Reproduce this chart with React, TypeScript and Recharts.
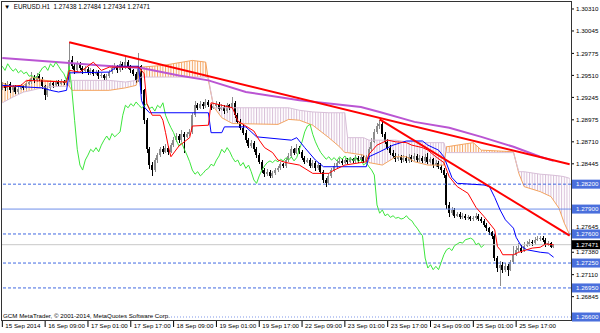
import React from 'react';
import { ComposedChart, Bar, Line, Area, XAxis, YAxis, ReferenceLine } from 'recharts';

// EURUSD H1, 15 Sep 17:00 .. 26 Sep 02:00 (2014)
const firstOpen = 1.2936;
const closes = [
  1.2939, 1.2936, 1.2941, 1.2933, 1.2937, 1.2931, 1.2935, 1.2938, 1.2936, 1.2941,
  1.2943, 1.2948, 1.2945, 1.2950, 1.2947, 1.2938, 1.2927, 1.2936, 1.2942, 1.2939,
  1.2943, 1.2941, 1.2944, 1.2942, 1.2945, 1.2969, 1.2962, 1.2957, 1.2965, 1.2960,
  1.2956, 1.2959, 1.2954, 1.2957, 1.2953, 1.2955, 1.2950, 1.2951, 1.2948, 1.2950,
  1.2955, 1.2960, 1.2962, 1.2957, 1.2965, 1.2961, 1.2967, 1.2962, 1.2957, 1.2953,
  1.2945, 1.2962, 1.2933, 1.2897, 1.2862, 1.2843, 1.2837, 1.2849, 1.2855, 1.2862,
  1.2859, 1.2864, 1.2859, 1.2867, 1.2873, 1.2878, 1.2873, 1.2881, 1.2877, 1.2880,
  1.2883, 1.2903, 1.2915, 1.2912, 1.2917, 1.2914, 1.2919, 1.2915, 1.2912, 1.2914,
  1.2917, 1.2911, 1.2913, 1.2908, 1.2915, 1.2912, 1.2918, 1.2903, 1.2895, 1.2888,
  1.2882, 1.2873, 1.2866, 1.2870, 1.2862, 1.2855, 1.2847, 1.2837, 1.2832, 1.2835,
  1.2830, 1.2833, 1.2837, 1.2839, 1.2844, 1.2842, 1.2849, 1.2854, 1.2862, 1.2858,
  1.2864, 1.2859, 1.2852, 1.2847, 1.2849, 1.2842, 1.2846, 1.2839, 1.2843, 1.2835,
  1.2825, 1.2821, 1.2830, 1.2837, 1.2842, 1.2846, 1.2848, 1.2846, 1.2849, 1.2847,
  1.2850, 1.2848, 1.2852, 1.2849, 1.2853, 1.2848, 1.2852, 1.2862, 1.2871, 1.2883,
  1.2890, 1.2892, 1.2880, 1.2871, 1.2864, 1.2858, 1.2854, 1.2850, 1.2853, 1.2849,
  1.2852, 1.2848, 1.2853, 1.2850, 1.2854, 1.2849, 1.2852, 1.2848, 1.2853, 1.2847,
  1.2850, 1.2843, 1.2846, 1.2841, 1.2837, 1.2831, 1.2795, 1.2785, 1.2789, 1.2782,
  1.2784, 1.2780, 1.2782, 1.2779, 1.2780, 1.2778, 1.2779, 1.2782, 1.2778, 1.2776,
  1.2771, 1.2767, 1.2762, 1.2758, 1.2731, 1.2719, 1.2723, 1.2717, 1.2721, 1.2717,
  1.2726, 1.2735, 1.2741, 1.2743, 1.2740, 1.2746, 1.2748, 1.2750, 1.2749, 1.2753,
  1.2754, 1.2755, 1.2753, 1.2747, 1.2749, 1.27438, 1.27471,
];
const highs = [
  1.2943, 1.2942, 1.2944, 1.2943, 1.2940, 1.2939, 1.2938, 1.2941, 1.2940, 1.2944,
  1.2947, 1.2955, 1.2951, 1.2954, 1.2953, 1.2949, 1.2940, 1.2938, 1.2945, 1.2944,
  1.2946, 1.2945, 1.2947, 1.2946, 1.2948, 1.2991, 1.2974, 1.2966, 1.2968, 1.2967,
  1.2962, 1.2962, 1.2961, 1.2960, 1.2959, 1.2958, 1.2957, 1.2954, 1.2953, 1.2953,
  1.2958, 1.2963, 1.2966, 1.2964, 1.2968, 1.2967, 1.2975, 1.2969, 1.2964, 1.2959,
  1.2955, 1.2978, 1.2964, 1.2935, 1.2900, 1.2865, 1.2847, 1.2852, 1.2858, 1.2865,
  1.2866, 1.2868, 1.2866, 1.2870, 1.2877, 1.2882, 1.2880, 1.2885, 1.2883, 1.2883,
  1.2887, 1.2906, 1.2920, 1.2918, 1.2920, 1.2919, 1.2922, 1.2921, 1.2917, 1.2917,
  1.2920, 1.2919, 1.2916, 1.2915, 1.2918, 1.2917, 1.2925, 1.2920, 1.2906, 1.2898,
  1.2891, 1.2885, 1.2876, 1.2873, 1.2872, 1.2865, 1.2857, 1.2849, 1.2840, 1.2838,
  1.2837, 1.2836, 1.2840, 1.2842, 1.2847, 1.2846, 1.2852, 1.2857, 1.2866, 1.2864,
  1.2868, 1.2866, 1.2861, 1.2854, 1.2852, 1.2851, 1.2849, 1.2848, 1.2846, 1.2845,
  1.2837, 1.2828, 1.2833, 1.2840, 1.2845, 1.2849, 1.2851, 1.2850, 1.2852, 1.2851,
  1.2853, 1.2852, 1.2855, 1.2854, 1.2856, 1.2855, 1.2855, 1.2865, 1.2875, 1.2887,
  1.2894, 1.2897, 1.2895, 1.2883, 1.2874, 1.2867, 1.2861, 1.2857, 1.2856, 1.2855,
  1.2855, 1.2854, 1.2856, 1.2855, 1.2857, 1.2856, 1.2855, 1.2854, 1.2856, 1.2858,
  1.2853, 1.2852, 1.2849, 1.2848, 1.2843, 1.2839, 1.2833, 1.2798, 1.2793, 1.2791,
  1.2787, 1.2786, 1.2785, 1.2784, 1.2783, 1.2782, 1.2782, 1.2785, 1.2784, 1.2780,
  1.2778, 1.2773, 1.2769, 1.2764, 1.2760, 1.2734, 1.2727, 1.2726, 1.2725, 1.2724,
  1.2729, 1.2745, 1.2745, 1.2749, 1.2747, 1.2750, 1.2752, 1.2754, 1.2753, 1.2756,
  1.2758, 1.2758, 1.2757, 1.2755, 1.2751, 1.2750, 1.27484,
];
const lows = [
  1.2933, 1.2932, 1.2934, 1.2930, 1.2931, 1.2928, 1.2929, 1.2933, 1.2933, 1.2935,
  1.2939, 1.2941, 1.2942, 1.2943, 1.2944, 1.2935, 1.2921, 1.2925, 1.2934, 1.2936,
  1.2937, 1.2938, 1.2939, 1.2939, 1.2940, 1.2943, 1.2959, 1.2953, 1.2955, 1.2957,
  1.2953, 1.2954, 1.2951, 1.2952, 1.2950, 1.2951, 1.2947, 1.2948, 1.2945, 1.2946,
  1.2948, 1.2953, 1.2958, 1.2954, 1.2955, 1.2958, 1.2959, 1.2959, 1.2954, 1.2950,
  1.2942, 1.2943, 1.2929, 1.2893, 1.2857, 1.2838, 1.2830, 1.2835, 1.2846, 1.2853,
  1.2856, 1.2857, 1.2855, 1.2857, 1.2865, 1.2871, 1.2869, 1.2871, 1.2858, 1.2875,
  1.2878, 1.2881, 1.2901, 1.2909, 1.2910, 1.2911, 1.2912, 1.2913, 1.2909, 1.2910,
  1.2912, 1.2908, 1.2909, 1.2905, 1.2906, 1.2909, 1.2910, 1.2900, 1.2892, 1.2885,
  1.2879, 1.2870, 1.2863, 1.2864, 1.2859, 1.2852, 1.2844, 1.2834, 1.2829, 1.2830,
  1.2828, 1.2828, 1.2831, 1.2835, 1.2837, 1.2839, 1.2840, 1.2847, 1.2852, 1.2855,
  1.2856, 1.2856, 1.2849, 1.2844, 1.2845, 1.2839, 1.2840, 1.2836, 1.2837, 1.2832,
  1.2822, 1.2816, 1.2819, 1.2828, 1.2835, 1.2840, 1.2844, 1.2843, 1.2844, 1.2844,
  1.2845, 1.2845, 1.2846, 1.2846, 1.2847, 1.2845, 1.2846, 1.2850, 1.2860, 1.2869,
  1.2880, 1.2886, 1.2877, 1.2868, 1.2861, 1.2855, 1.2851, 1.2847, 1.2848, 1.2846,
  1.2847, 1.2845, 1.2846, 1.2847, 1.2848, 1.2846, 1.2847, 1.2845, 1.2846, 1.2844,
  1.2845, 1.2840, 1.2841, 1.2838, 1.2834, 1.2828, 1.2790, 1.2781, 1.2783, 1.2779,
  1.2780, 1.2778, 1.2778, 1.2777, 1.2777, 1.2776, 1.2776, 1.2777, 1.2776, 1.2773,
  1.2768, 1.2764, 1.2759, 1.2754, 1.2727, 1.2714, 1.2697, 1.2713, 1.2714, 1.2709,
  1.2715, 1.2724, 1.2733, 1.2738, 1.2737, 1.2738, 1.2744, 1.2746, 1.2746, 1.2747,
  1.2751, 1.2752, 1.2750, 1.2744, 1.2745, 1.27430, 1.27434,
];

// Ichimoku lines, [bar, price] at the turning points
const tenkanPts: [number, number][] = [
  [0, 1.2937], [7, 1.2939], [9, 1.2945], [24, 1.2943], [25, 1.2957], [29, 1.2955], [34, 1.2967],
  [37, 1.2957], [40, 1.2961], [51, 1.2961], [53, 1.2953], [54, 1.2917], [56, 1.2903], [59, 1.2903],
  [60, 1.2897], [61, 1.2882], [62, 1.2866], [63, 1.2853], [66, 1.2866], [70, 1.2876], [71, 1.2890],
  [77, 1.2891], [78, 1.2918], [86, 1.2912], [88, 1.2896], [91, 1.2890], [94, 1.2884], [96, 1.2873],
  [98, 1.2864], [101, 1.2858], [103, 1.2849], [106, 1.2846], [111, 1.2843], [116, 1.2833], [122, 1.2833],
  [124, 1.2837], [128, 1.2843], [136, 1.2847], [137, 1.2856], [140, 1.2867], [142, 1.2870], [144, 1.2873],
  [147, 1.2871], [151, 1.2870], [153, 1.2867], [157, 1.2864], [159, 1.2861], [162, 1.2853], [165, 1.2846],
  [167, 1.2829], [170, 1.2817], [172, 1.2813], [174, 1.2809], [177, 1.2792], [180, 1.2781], [182, 1.2773],
  [184, 1.2765], [185, 1.2745], [186, 1.2741], [187, 1.2735], [191, 1.2735], [193, 1.2738], [196, 1.2741],
  [198, 1.2743], [201, 1.2744], [203, 1.2748], [206, 1.2747],
];
const kijunPts: [number, number][] = [
  [0, 1.2939], [9, 1.2937], [15, 1.2936], [18, 1.2933], [21, 1.2931], [24, 1.2933], [25, 1.2954],
  [40, 1.2955], [43, 1.2962], [51, 1.2962], [52, 1.2921], [53, 1.2913], [55, 1.2906], [77, 1.2906],
  [78, 1.2882], [82, 1.2882], [83, 1.2889], [91, 1.2889], [95, 1.2877], [108, 1.2873], [110, 1.2876],
  [113, 1.2864], [117, 1.2849], [120, 1.2841], [136, 1.2841], [137, 1.2853], [141, 1.2859], [146, 1.2867],
  [151, 1.2872], [157, 1.2872], [159, 1.2867], [163, 1.2861], [165, 1.2853], [168, 1.2828], [170, 1.2821],
  [180, 1.2819], [182, 1.2817], [184, 1.2804], [186, 1.2789], [188, 1.2777], [191, 1.2767], [192, 1.2756],
  [194, 1.2745], [196, 1.2741], [201, 1.2738], [204, 1.2737], [206, 1.2732],
];

// Senkou span A / B (already shifted 26 bars forward)
const cloudBars = [
  0, 4, 8, 11, 16, 24, 26, 40, 46, 50, 52, 60, 71, 76, 77, 79, 82, 86, 103, 107, 111, 116, 122,
  126, 128, 129, 135, 137, 142, 144, 147, 151, 154, 159, 165, 166, 176, 179, 191, 193, 195, 201,
  205, 208, 210, 212,
];
const spanA = [
  1.2942, 1.2937, 1.2939, 1.2949, 1.2945, 1.2943, 1.2933, 1.2933, 1.2936, 1.2939, 1.2961, 1.2963,
  1.2969, 1.2967, 1.2945, 1.2913, 1.2900, 1.2893, 1.2892, 1.2898, 1.2897, 1.2891, 1.2876, 1.2865,
  1.2858, 1.2858, 1.2855, 1.2846, 1.2843, 1.2847, 1.2853, 1.2853, 1.2847, 1.2843, 1.2843, 1.2865,
  1.2870, 1.2861, 1.2859, 1.2833, 1.2817, 1.2811, 1.2805, 1.2791, 1.2773, 1.2759,
];
const spanB = [
  1.2918, 1.2925, 1.2931, 1.2933, 1.2937, 1.2938, 1.2945, 1.2945, 1.2943, 1.2945, 1.2949, 1.2949,
  1.2949, 1.2949, 1.2948, 1.2912, 1.2912, 1.2912, 1.2912, 1.2912, 1.2909, 1.2907, 1.2906, 1.2906,
  1.2906, 1.2876, 1.2876, 1.2873, 1.2873, 1.2873, 1.2873, 1.2871, 1.2871, 1.2870, 1.2870, 1.2858,
  1.2858, 1.2858, 1.2858, 1.2835, 1.2835, 1.2832, 1.2831, 1.2830, 1.2829, 1.2827,
];

// slow moving average (violet)
const maPts: [number, number][] = [
  [0, 1.2972], [25, 1.2966], [37, 1.2963], [52, 1.2960], [66, 1.2951], [77, 1.2945], [91, 1.2931],
  [111, 1.2921], [134, 1.2913], [141, 1.2907], [154, 1.2895], [167, 1.2888], [179, 1.2877],
  [191, 1.2865], [201, 1.2853], [206, 1.2848],
];

// hand drawn trend lines
const trend1: [number, number][] = [[25, 1.2991], [212, 1.2844]];
const trend2: [number, number][] = [[141, 1.2898], [212, 1.2758]];

// horizontal levels
const dashedLevels = [1.282, 1.276, 1.2725, 1.2695];
const solidLevel = 1.279;
const dottedLevel = 1.266;
const currentPrice = 1.27471;

const gridTicks = [1.3031, 1.30045, 1.29775, 1.2951, 1.29245, 1.28975, 1.2871, 1.28445, 1.27645, 1.2738, 1.2711, 1.26845];
const levelTicks = [1.282, 1.279, 1.276, 1.2725, 1.2695, 1.266];

const timeTickBars = [0, 16, 32, 48, 64, 80, 96, 112, 128, 144, 160, 176, 192];
const timeTickText = [
  '15 Sep 2014', '16 Sep 09:00', '17 Sep 01:00', '17 Sep 17:00', '18 Sep 09:00', '19 Sep 01:00',
  '19 Sep 17:00', '22 Sep 09:00', '23 Sep 01:00', '23 Sep 17:00', '24 Sep 09:00', '25 Sep 01:00',
  '25 Sep 17:00',
];

const SLOTS = 213; // bars + chart shift on the right
const Y_MIN = 1.26564;
const Y_MAX = 1.30406;
const PLOT_RIGHT = 571;
const PLOT_BOTTOM = 320;
const BAND = 570 / SLOTS;
const FONT = '"Liberation Sans", Arial, sans-serif';

const rows = Array.from({ length: SLOTS }, (_, i) => {
  const row: Record<string, any> = { i };
  if (i < closes.length) {
    row.o = i === 0 ? firstOpen : closes[i - 1];
    row.h = highs[i];
    row.l = lows[i];
    row.c = closes[i];
    row.range = [lows[i], highs[i]];
    if (i + 26 < closes.length) row.chikou = closes[i + 26];
  }
  return row;
});
const put = (key: string, pts: [number, number][]) => pts.forEach(([b, v]) => { rows[b][key] = v; });
put('tenkan', tenkanPts);
put('kijun', kijunPts);
put('ma', maPts);
put('tl1', trend1);
put('tl2', trend2);
cloudBars.forEach((b, k) => {
  const a = spanA[k];
  const s = spanB[k];
  const top = Math.max(a, s);
  rows[b].spanA = a;
  rows[b].spanB = s;
  rows[b].bull = [s, top];
  rows[b].bear = [a, top];
});

function Candle(props: any) {
  const { x, y, width, height, payload } = props;
  if (!payload || payload.c == null || y == null) return null;
  const { o, h, l, c } = payload;
  const span = h - l;
  const toY = (v: number) => (span > 0 ? y + ((h - v) / span) * height : y);
  const cx = Math.floor(x + width / 2);
  const color = c > o ? '#8c8c8c' : '#000000';
  const top = toY(Math.max(o, c));
  const bot = toY(Math.min(o, c));
  return (
    <g shapeRendering="crispEdges">
      <rect x={cx} y={y} width={1} height={Math.max(1, height)} fill={color} />
      <rect x={cx - 1} y={top} width={2} height={Math.max(1, bot - top)} fill={color} />
    </g>
  );
}

function PriceTick(props: any) {
  const { y, payload } = props;
  const v = payload.value;
  const label = v.toFixed(5);
  if (v === currentPrice) {
    return (
      <g>
        <rect x={PLOT_RIGHT + 1} y={y - 4.5} width={29} height={9} fill="#000" />
        <text x={PLOT_RIGHT + 5} y={y + 2.2} fontSize={6.2} fontFamily={FONT} fill="#fff">{label}</text>
      </g>
    );
  }
  if (levelTicks.includes(v)) {
    return (
      <g>
        <rect x={PLOT_RIGHT + 1} y={y - 4.5} width={29} height={9} fill="#4a6fdc" />
        <text x={PLOT_RIGHT + 5} y={y + 2.2} fontSize={6.2} fontFamily={FONT} fill="#fff">{label}</text>
      </g>
    );
  }
  // the 1.27645 label sits right above the 1.27600 box; lift it clear of the box
  const lift = v === 1.27645 ? 3.5 : 0;
  return (
    <g>
      <line x1={PLOT_RIGHT} x2={PLOT_RIGHT + 3} y1={y} y2={y} stroke="#000" />
      <text x={PLOT_RIGHT + 5} y={y + 2.2 - lift} fontSize={6.2} fontFamily={FONT} fill="#000">{label}</text>
    </g>
  );
}

function TimeTick(props: any) {
  const { x, payload } = props;
  const k = timeTickBars.indexOf(Number(payload.value));
  if (k < 0) return null;
  return (
    <g>
      <line x1={x} x2={x} y1={PLOT_BOTTOM + 1} y2={PLOT_BOTTOM + 7} stroke="#000" />
      <text x={x + 3} y={PLOT_BOTTOM + 7.5} fontSize={6.2} fontFamily={FONT} fill="#000">{timeTickText[k]}</text>
    </g>
  );
}

export default function App() {
  return (
    <div style={{ position: 'relative', width: 600, height: 333, background: '#fff', overflow: 'hidden' }}>
      <style>{'body{margin:0}'}</style>
      <ComposedChart
        width={600}
        height={333}
        data={rows}
        margin={{ top: 1, right: 0, bottom: 0, left: 1 }}
        barCategoryGap={0}
        barGap={0}
      >
        <defs>
          <pattern id="hatchA" patternUnits="userSpaceOnUse" x={1.84} y={0} width={BAND} height={6}>
            <rect x={0} y={0} width={1} height={6} fill="#F4A460" />
          </pattern>
          <pattern id="hatchB" patternUnits="userSpaceOnUse" x={1.84} y={0} width={BAND} height={6}>
            <rect x={0} y={0} width={1} height={6} fill="#D8BFD8" />
          </pattern>
        </defs>
        <XAxis dataKey="i" type="category" interval={0} tick={<TimeTick />} tickLine={false} axisLine={false} height={13} />
        <YAxis
          orientation="right"
          type="number"
          domain={[Y_MIN, Y_MAX]}
          allowDataOverflow
          ticks={[...gridTicks, ...levelTicks, currentPrice]}
          interval={0}
          tick={<PriceTick />}
          tickLine={false}
          axisLine={false}
          width={29}
        />
        <Area dataKey="bull" type="linear" stroke="none" fill="url(#hatchA)" fillOpacity={1} connectNulls activeDot={false} isAnimationActive={false} />
        <Area dataKey="bear" type="linear" stroke="none" fill="url(#hatchB)" fillOpacity={1} connectNulls activeDot={false} isAnimationActive={false} />
        <Line dataKey="spanA" stroke="#F4A460" strokeWidth={1} dot={false} activeDot={false} connectNulls isAnimationActive={false} />
        <Line dataKey="spanB" stroke="#D8BFD8" strokeWidth={1} dot={false} activeDot={false} connectNulls isAnimationActive={false} />
        {dashedLevels.map((p) => (
          <ReferenceLine key={p} y={p} stroke="#4169E1" strokeDasharray="3 2" strokeWidth={1} />
        ))}
        <ReferenceLine y={solidLevel} stroke="#6f8fea" strokeWidth={1} />
        <ReferenceLine y={dottedLevel} stroke="#7f97e8" strokeDasharray="1 2" strokeWidth={1} />
        <ReferenceLine y={currentPrice} stroke="#c8c8c8" strokeWidth={1} />
        <Line dataKey="ma" stroke="#BA55D3" strokeWidth={2} dot={false} activeDot={false} connectNulls isAnimationActive={false} />
        <Bar dataKey="range" shape={<Candle />} isAnimationActive={false} />
        <Line dataKey="chikou" stroke="#3ce63c" strokeWidth={1} dot={false} activeDot={false} isAnimationActive={false} />
        <Line dataKey="kijun" stroke="#0000ff" strokeWidth={1} dot={false} activeDot={false} connectNulls isAnimationActive={false} />
        <Line dataKey="tenkan" stroke="#ff0000" strokeWidth={1} dot={false} activeDot={false} connectNulls isAnimationActive={false} />
        <Line dataKey="tl1" stroke="#ff0000" strokeWidth={2} dot={false} activeDot={false} connectNulls isAnimationActive={false} />
        <Line dataKey="tl2" stroke="#ff0000" strokeWidth={2} dot={false} activeDot={false} connectNulls isAnimationActive={false} />
      </ComposedChart>
      <div
        style={{
          position: 'absolute', left: 1, top: 1, width: 571, height: 320, boxSizing: 'border-box',
          border: '1px solid #333', pointerEvents: 'none',
        }}
      />
      <div style={{ position: 'absolute', left: 4, top: 3, fontFamily: FONT, fontSize: 6.3, lineHeight: '8px', color: '#000', whiteSpace: 'pre' }}>
        {'▼  EURUSD.H1  1.27438 1.27484 1.27434 1.27471'}
      </div>
      <div style={{ position: 'absolute', left: 3, top: 312, fontFamily: FONT, fontSize: 6.2, lineHeight: '7px', color: '#000', background: '#fff', whiteSpace: 'pre' }}>
        {'GCM MetaTrader, © 2001-2014, MetaQuotes Software Corp.'}
      </div>
    </div>
  );
}
